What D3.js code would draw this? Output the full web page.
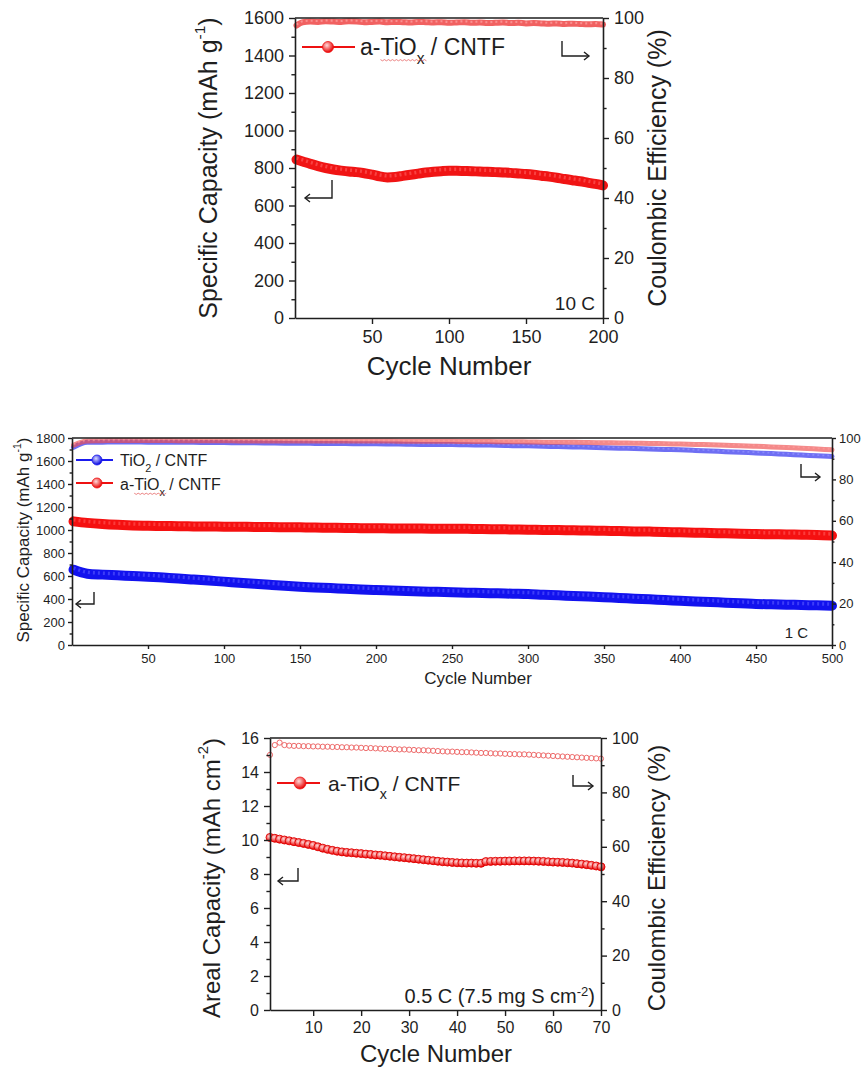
<!DOCTYPE html>
<html><head><meta charset="utf-8">
<script src="https://cdn.jsdelivr.net/npm/d3@7"></script>
<style>
body{margin:0;background:#fff}
text{font-family:Arial,"Liberation Sans",Helvetica,sans-serif;fill:#1e1e1e}
.axis .domain{stroke:#1e1e1e;stroke-width:1.6}
.axis .tick line{stroke:#1e1e1e;stroke-width:1.4}
</style>
</head><body>
<svg id="c" width="861" height="1069"></svg>
<script>
// ---------------- DATA ----------------
// Panel 1 : 10 C, a-TiOx / CNTF
const topCycles = [1,5,10,15,20,25,30,35,40,45,50,55,60,65,70,75,80,85,90,95,100,105,110,115,120,125,130,135,140,145,150,155,160,165,170,175,180,185,190,195,200];
const topCapacity = [845,835,822,810,800,792,786,781,778,772,765,755,750,752,758,764,770,776,780,783,785,785,784,783,781,780,778,776,774,771,768,764,759,754,748,741,735,729,722,715,707];
const topCE = [97.5,98.6,98.8,98.7,98.9,98.8,98.7,98.9,98.8,98.6,98.7,98.8,98.6,98.7,98.6,98.5,98.7,98.6,98.5,98.6,98.4,98.5,98.6,98.4,98.5,98.3,98.4,98.5,98.3,98.4,98.2,98.3,98.2,98.1,98.2,98.0,98.1,98.0,97.9,98.0,97.8];
const topYTicks = [0,200,400,600,800,1000,1200,1400,1600];
const topXTicks = [50,100,150,200];
const ceTicks = [0,20,40,60,80,100];

// Panel 2 : 1 C, TiO2 / CNTF vs a-TiOx / CNTF
const midCycles = [1,10,20,30,40,50,60,70,80,90,100,110,120,130,140,150,160,170,180,190,200,210,220,230,240,250,260,270,280,290,300,310,320,330,340,350,360,370,380,390,400,410,420,430,440,450,460,470,480,490,500];
const midRedCapacity = [1075,1062,1052,1045,1040,1037,1035,1033,1031,1030,1029,1028,1027,1026,1024,1023,1021,1020,1018,1016,1015,1014,1013,1012,1011,1011,1010,1008,1006,1005,1003,1001,999,997,995,993,991,988,986,983,980,977,974,971,968,965,963,961,959,957,952];
const midBlueCapacity = [655,620,612,606,600,594,586,578,569,560,551,542,533,524,515,507,501,495,489,483,478,474,470,466,462,458,455,452,449,446,443,437,432,426,421,415,409,403,397,391,385,379,374,368,363,357,354,351,348,345,342];
const midRedCE = [96.5,98.6,98.7,98.8,98.8,98.8,98.8,98.7,98.7,98.7,98.7,98.6,98.6,98.6,98.6,98.5,98.5,98.5,98.5,98.5,98.5,98.5,98.4,98.4,98.4,98.4,98.3,98.3,98.2,98.2,98.1,98.0,97.9,97.9,97.8,97.7,97.6,97.5,97.4,97.2,97.1,96.9,96.7,96.5,96.3,96.0,95.7,95.4,95.1,94.7,94.3];
const midBlueCE = [95.5,97.9,98.0,98.1,98.1,98.0,98.0,97.9,97.9,97.8,97.8,97.7,97.7,97.6,97.5,97.5,97.4,97.3,97.3,97.2,97.2,97.1,97.0,96.9,96.9,96.8,96.7,96.6,96.5,96.3,96.2,96.0,95.9,95.7,95.5,95.3,95.1,94.9,94.7,94.5,94.3,94.0,93.7,93.4,93.1,92.8,92.5,92.1,91.8,91.4,91.1];
const midYTicks = [0,200,400,600,800,1000,1200,1400,1600,1800];
const midXTicks = [50,100,150,200,250,300,350,400,450,500];

// Panel 3 : 0.5 C (7.5 mg S cm-2), areal capacity
const botCycles = [1,2,3,4,5,6,7,8,9,10,11,12,13,14,15,16,17,18,19,20,21,22,23,24,25,26,27,28,29,30,31,32,33,34,35,36,37,38,39,40,41,42,43,44,45,46,47,48,49,50,51,52,53,54,55,56,57,58,59,60,61,62,63,64,65,66,67,68,69,70];
const botCapacity = [10.15,10.1,10.05,10.0,9.95,9.9,9.85,9.8,9.74,9.68,9.6,9.52,9.45,9.39,9.34,9.3,9.27,9.25,9.22,9.2,9.17,9.15,9.12,9.1,9.07,9.04,9.01,8.98,8.96,8.93,8.9,8.87,8.84,8.81,8.78,8.75,8.72,8.7,8.68,8.66,8.65,8.64,8.64,8.63,8.63,8.73,8.74,8.75,8.75,8.76,8.76,8.77,8.77,8.77,8.77,8.76,8.75,8.74,8.72,8.7,8.69,8.68,8.66,8.64,8.61,8.58,8.55,8.51,8.47,8.42];
const botCE = [93.8,97.4,98.3,97.4,97.2,97.1,97.1,97.0,97.0,96.9,96.9,96.8,96.8,96.7,96.7,96.6,96.6,96.5,96.5,96.4,96.3,96.3,96.2,96.1,96.0,96.0,95.9,95.8,95.8,95.7,95.6,95.5,95.5,95.4,95.3,95.2,95.1,95.0,95.0,94.9,94.8,94.8,94.7,94.6,94.5,94.5,94.4,94.3,94.3,94.2,94.1,94.1,94.0,94.0,93.9,93.8,93.7,93.6,93.5,93.4,93.3,93.2,93.1,93.0,92.9,92.8,92.7,92.6,92.5,92.4];
const botYTicks = [0,2,4,6,8,10,12,14,16];
const botXTicks = [10,20,30,40,50,60,70];

// ---------------- DRAWING ----------------
const svg = d3.select("#c");
const defs = svg.append("defs");
function sphere(id, c0, c1){
  const g = defs.append("radialGradient").attr("id", id).attr("cx","40%").attr("cy","35%").attr("r","65%");
  g.append("stop").attr("offset","0%").attr("stop-color", c0);
  g.append("stop").attr("offset","100%").attr("stop-color", c1);
}
sphere("gR", "#ffd8d8", "#e80000");
sphere("gB", "#d8d8ff", "#0000e0");

function minorOf(ticks){
  const step = ticks[1]-ticks[0], hi = d3.max(ticks), out=[];
  for (let i=0;i<=ticks.length;i++){ const v = ticks[0] - step/2 + step*i; if (v>0 && v<hi) out.push(v);}
  return out;
}

function makePanel(o){
  const x = d3.scaleLinear().domain(o.xDom).range([o.L, o.R]);
  const y = d3.scaleLinear().domain(o.yDom).range([o.B, o.T]);
  const y2 = d3.scaleLinear().domain([0,100]).range([o.B, o.T]);
  const g = svg.append("g");
  return {x, y, y2, g};
}

function axes(p, o){
  const {x,y,y2,g} = p;
  const fs = o.tickFont, fmt = d3.format("d");
  g.append("line").attr("x1",o.L).attr("x2",o.R).attr("y1",o.T).attr("y2",o.T)
    .attr("stroke","#1e1e1e").attr("stroke-width",1.6);
  const xa = g.append("g").attr("class","axis").attr("transform",`translate(0,${o.B})`)
    .call(d3.axisBottom(x).tickValues(o.xTicks).tickFormat(fmt).tickSize(o.tk).tickSizeOuter(0).tickPadding(o.xpad));
  const ya = g.append("g").attr("class","axis").attr("transform",`translate(${o.L},0)`)
    .call(d3.axisLeft(y).tickValues(o.yTicks).tickFormat(fmt).tickSize(o.tk).tickSizeOuter(0).tickPadding(o.pad));
  g.append("g").attr("class","axis").attr("transform",`translate(${o.L},0)`)
    .call(d3.axisLeft(y).tickValues(minorOf(o.yTicks)).tickSize(o.tk*0.6).tickSizeOuter(0).tickFormat(""))
    .select(".domain").remove();
  const ya2 = g.append("g").attr("class","axis").attr("transform",`translate(${o.R},0)`)
    .call(d3.axisRight(y2).tickValues(ceTicks).tickFormat(fmt).tickSize(o.tk).tickSizeOuter(0).tickPadding(o.pad));
  g.append("g").attr("class","axis").attr("transform",`translate(${o.R},0)`)
    .call(d3.axisRight(y2).tickValues(minorOf(ceTicks)).tickSize(o.tk*0.6).tickSizeOuter(0).tickFormat(""))
    .select(".domain").remove();
  [xa,ya,ya2].forEach(a => a.selectAll("text").style("font-size", fs+"px").attr("fill","#1e1e1e")
    .style("font-family",'Arial,"Liberation Sans",sans-serif'));
}

function band(p, xs, vs, scale, color, width, hi, opacity){
  const pts = xs.map((c,i)=>[p.x(c), scale(vs[i])]);
  const d = d3.line().curve(d3.curveMonotoneX)(pts);
  p.g.append("path").attr("d", d).attr("fill","none").attr("stroke",color).attr("stroke-width",width)
    .attr("stroke-linecap","round").attr("opacity",opacity);
  if (hi){
    p.g.append("path").attr("d", d).attr("fill","none").attr("stroke",hi).attr("stroke-width",width*0.35)
      .attr("stroke-dasharray","2,3").attr("transform",`translate(0,${-width*0.15})`).attr("opacity",0.6);
  }
}

function arrow(pts, dir){
  svg.append("path").attr("d",d3.line()(pts)).attr("fill","none").attr("stroke","#1e1e1e").attr("stroke-width",1.4);
  const [ex,ey] = pts[pts.length-1];
  const h = 5;
  const d = dir<0 ? `M${ex+h},${ey-h*0.8}L${ex},${ey}L${ex+h},${ey+h*0.8}` : `M${ex-h},${ey-h*0.8}L${ex},${ey}L${ex-h},${ey+h*0.8}`;
  svg.append("path").attr("d",d).attr("fill","none").attr("stroke","#1e1e1e").attr("stroke-width",1.4);
}

function legendText(x, yb, size, parts, squiggle){
  const t = svg.append("text").attr("x",x).attr("y",yb).style("font-size",size+"px");
  parts.forEach(pt => {
    const s = t.append("tspan").text(pt.t);
    if (pt.sub) s.attr("baseline-shift","sub").style("font-size",(size*0.68)+"px");
    if (pt.sup) s.attr("baseline-shift","super").style("font-size",(size*0.65)+"px");
  });
  if (squiggle){
    const node = t.node();
    const a = node.getStartPositionOfChar(2).x, b = node.getEndPositionOfChar(5).x;
    const yy = yb + size*0.2;
    let d = `M${a},${yy}`; let k=0;
    for (let xx=a; xx<b; xx+=2){ d += `L${xx+2},${yy + (k%2?0:1.2)}`; k++; }
    svg.append("path").attr("d",d).attr("fill","none").attr("stroke","#e04040").attr("stroke-width",0.8).attr("opacity",0.8);
  }
  return t;
}

function rotTitle(x, y, size, parts){
  const t = svg.append("text").attr("transform",`translate(${x},${y}) rotate(-90)`)
    .attr("text-anchor","middle").attr("dominant-baseline","central").style("font-size",size+"px");
  parts.forEach(pt => {
    const s = t.append("tspan").text(pt.t);
    if (pt.sup) s.attr("baseline-shift","super").style("font-size",(size*0.62)+"px");
  });
}
function hTitle(x, y, size, str){
  svg.append("text").attr("x",x).attr("y",y).attr("text-anchor","middle").attr("dominant-baseline","central")
    .style("font-size",size+"px").text(str);
}
function legendMarker(x1, x2, y, cx, r, color, grad){
  svg.append("line").attr("x1",x1).attr("x2",x2).attr("y1",y).attr("y2",y).attr("stroke",color).attr("stroke-width",2);
  svg.append("circle").attr("cx",cx).attr("cy",y).attr("r",r).attr("fill",`url(#${grad})`).attr("stroke",color).attr("stroke-width",0.8);
}

// ===== Panel 1 =====
const o1 = {L:295, R:603, T:18, B:318, xDom:[0,200], yDom:[0,1600], xTicks:topXTicks, yTicks:topYTicks, tk:6, pad:5, xpad:6, tickFont:18};
const p1 = makePanel(o1);
band(p1, topCycles, topCE, p1.y2, "#f05050", 6, "#ffb0b0", 0.9);
band(p1, topCycles, topCapacity, p1.y, "#f01414", 10, "#ff6060", 1);
axes(p1, o1);
legendMarker(302, 355, 47, 328, 5.5, "#ee1111", "gR");
legendText(360, 55, 23, [{t:"a-TiO"},{t:"x",sub:true},{t:" / CNTF"}], true);
svg.append("text").attr("x",595).attr("y",310).attr("text-anchor","end").style("font-size","19px").text("10 C");
arrow([[332,180],[332,198],[305,198]], -1);
arrow([[562,41],[562,56],[589,56]], 1);
rotTitle(208, 168, 25, [{t:"Specific Capacity (mAh g"},{t:"-1",sup:true},{t:")"}]);
rotTitle(657, 168, 25, [{t:"Coulombic Efficiency (%)"}]);
hTitle(449, 366, 26, "Cycle Number");

// ===== Panel 2 =====
const o2 = {L:72, R:832, T:438, B:645, xDom:[0,500], yDom:[0,1800], xTicks:midXTicks, yTicks:midYTicks, tk:4, pad:3, xpad:5, tickFont:13};
const p2 = makePanel(o2);
band(p2, midCycles, midBlueCE, p2.y2, "#4a4af0", 5, "#9a9aff", 0.8);
band(p2, midCycles, midRedCE, p2.y2, "#ee4a4a", 5, "#ffa0a0", 0.65);
band(p2, midCycles, midRedCapacity, p2.y, "#f51010", 10, "#ff5a5a", 1);
band(p2, midCycles, midBlueCapacity, p2.y, "#1212ee", 10, "#5a5aff", 1);
axes(p2, o2);
legendMarker(76, 113, 460, 97, 5, "#1a1aee", "gB");
legendText(120, 466, 16, [{t:"TiO"},{t:"2",sub:true},{t:" / CNTF"}], false);
legendMarker(76, 113, 483, 97, 5, "#ee1111", "gR");
legendText(120, 490, 16, [{t:"a-TiO"},{t:"x",sub:true},{t:" / CNTF"}], true);
svg.append("text").attr("x",808).attr("y",638).attr("text-anchor","end").style("font-size","15px").text("1 C");
arrow([[94,592],[94,604],[76,604]], -1);
arrow([[801,464],[801,477],[820,477]], 1);
rotTitle(23, 540, 17, [{t:"Specific Capacity (mAh g"},{t:"-1",sup:true},{t:")"}]);
hTitle(478, 678, 17, "Cycle Number");

// ===== Panel 3 =====
const o3 = {L:270, R:601, T:738, B:1010, xDom:[1,70], yDom:[0,16], xTicks:botXTicks, yTicks:botYTicks, tk:6, pad:5, xpad:6, tickFont:16};
const p3 = makePanel(o3);
p3.g.append("g").selectAll("circle").data(botCycles).join("circle")
  .attr("cx",(c)=>p3.x(c)).attr("cy",(c,i)=>p3.y2(botCE[i])).attr("r",2.6)
  .attr("fill","none").attr("stroke","#ee6a6a").attr("stroke-width",1);
p3.g.append("g").selectAll("circle").data(botCycles).join("circle")
  .attr("cx",(c)=>p3.x(c)).attr("cy",(c,i)=>p3.y(botCapacity[i])).attr("r",4)
  .attr("fill","url(#gR)").attr("stroke","#e00000").attr("stroke-width",0.9);
axes(p3, o3);
legendMarker(277, 320, 783, 300, 6, "#ee1111", "gR");
legendText(328, 791, 21, [{t:"a-TiO"},{t:"x",sub:true},{t:" / CNTF"}], false);
legendText(595, 1003, 20, [{t:"0.5 C (7.5 mg S cm"},{t:"-2",sup:true},{t:")"}], false).attr("text-anchor","end");
arrow([[298,868],[298,881],[278,881]], -1);
arrow([[573,775],[573,786],[593,786]], 1);
rotTitle(211, 878, 24, [{t:"Areal Capacity (mAh cm"},{t:"-2",sup:true},{t:")"}]);
rotTitle(656, 878, 24, [{t:"Coulombic Efficiency (%)"}]);
hTitle(436, 1053, 24, "Cycle Number");
</script>
</body></html>
